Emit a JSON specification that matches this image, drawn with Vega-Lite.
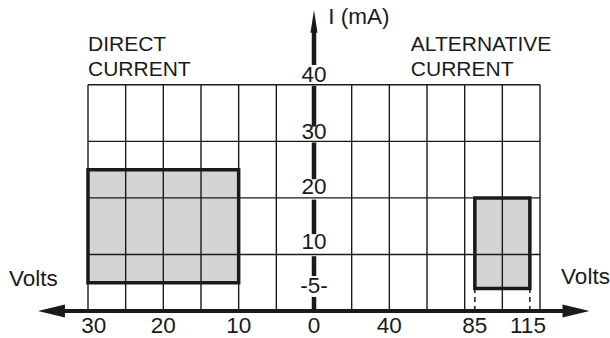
{
  "$schema": "https://vega.github.io/schema/vega-lite/v6.json",
  "width": 610,
  "height": 338,
  "autosize": {"type": "fit", "contains": "padding"},
  "padding": 0,
  "background": "white",
  "config": {"view": {"stroke": null}},
  "datasets": {
    "boxes": [
      {"name": "direct", "x0": -6, "x1": -2, "y0": 5, "y1": 25},
      {"name": "alternative", "x0": 4.27, "x1": 5.73, "y0": 4, "y1": 20}
    ],
    "gridv": [
      {"x": -6, "y0": 0, "y1": 40}, {"x": -5, "y0": 0, "y1": 40}, {"x": -4, "y0": 0, "y1": 40},
      {"x": -3, "y0": 0, "y1": 40}, {"x": -2, "y0": 0, "y1": 40}, {"x": -1, "y0": 0, "y1": 40},
      {"x": 1, "y0": 0, "y1": 40}, {"x": 2, "y0": 0, "y1": 40}, {"x": 3, "y0": 0, "y1": 40},
      {"x": 4, "y0": 0, "y1": 40}, {"x": 5, "y0": 0, "y1": 40}, {"x": 6, "y0": 0, "y1": 40}
    ],
    "gridh": [
      {"y": 10, "x0": -6, "x1": 6}, {"y": 20, "x0": -6, "x1": 6},
      {"y": 30, "x0": -6, "x1": 6}, {"y": 40, "x0": -6, "x1": 6}
    ],
    "dashes": [
      {"x": 4.27, "y0": 0, "y1": 4},
      {"x": 5.73, "y0": 0, "y1": 4}
    ],
    "vaxis": [
      {"y0": 43.5, "y1": 49.6},
      {"y0": 32.6, "y1": 39.8},
      {"y0": 23.3, "y1": 29.8},
      {"y0": 13.6, "y1": 19.7},
      {"y0": 6.2, "y1": 9.7},
      {"y0": 0, "y1": 2.5}
    ],
    "haxis": [{"x0": -6.95, "x1": 6.95, "y": 0}],
    "arrows": [
      {"dir": "left", "x": -6.97, "y": 0},
      {"dir": "right", "x": 6.955, "y": 0},
      {"dir": "up", "x": 0, "y": 51.2}
    ],
    "words": [
      {"text": "DIRECT", "x": -6, "y": 47.0},
      {"text": "CURRENT", "x": -6, "y": 42.6},
      {"text": "ALTERNATIVE", "x": 2.57, "y": 47.0},
      {"text": "CURRENT", "x": 2.57, "y": 42.6}
    ],
    "side": [
      {"text": "I (mA)", "x": 0.38, "y": 52},
      {"text": "Volts", "x": -8.1, "y": 5.6},
      {"text": "Volts", "x": 6.56, "y": 6.1}
    ],
    "numbers": [
      {"text": "40", "x": 0, "y": 41.8},
      {"text": "30", "x": 0, "y": 31.7},
      {"text": "20", "x": 0, "y": 21.85},
      {"text": "10", "x": 0, "y": 12.2},
      {"text": "-5-", "x": 0, "y": 4.4},
      {"text": "30", "x": -5.85, "y": -2.6},
      {"text": "20", "x": -4, "y": -2.6},
      {"text": "10", "x": -2, "y": -2.6},
      {"text": "0", "x": 0, "y": -2.6},
      {"text": "40", "x": 2, "y": -2.6},
      {"text": "85", "x": 4.27, "y": -2.6},
      {"text": "115", "x": 5.68, "y": -2.6}
    ]
  },
  "layer": [
    {
      "data": {"name": "boxes"},
      "mark": {"type": "rect", "fill": "#d3d4d6", "stroke": null},
      "encoding": {
        "x": {"field": "x0", "type": "quantitative", "scale": {"domain": [-8.336, 7.858], "nice": false, "zero": false}, "axis": null},
        "x2": {"field": "x1"},
        "y": {"field": "y0", "type": "quantitative", "scale": {"domain": [-4.58, 54.98], "nice": false, "zero": false}, "axis": null},
        "y2": {"field": "y1"}
      }
    },
    {
      "data": {"name": "gridv"},
      "mark": {"type": "rule", "color": "#1a1a1a", "strokeWidth": 1.4},
      "encoding": {
        "x": {"field": "x", "type": "quantitative", "scale": {"domain": [-8.336, 7.858], "nice": false, "zero": false}, "axis": null},
        "y": {"field": "y0", "type": "quantitative", "scale": {"domain": [-4.58, 54.98], "nice": false, "zero": false}, "axis": null},
        "y2": {"field": "y1"}
      }
    },
    {
      "data": {"name": "gridh"},
      "mark": {"type": "rule", "color": "#1a1a1a", "strokeWidth": 1.4},
      "encoding": {
        "x": {"field": "x0", "type": "quantitative", "scale": {"domain": [-8.336, 7.858], "nice": false, "zero": false}, "axis": null},
        "x2": {"field": "x1"},
        "y": {"field": "y", "type": "quantitative", "scale": {"domain": [-4.58, 54.98], "nice": false, "zero": false}, "axis": null}
      }
    },
    {
      "data": {"name": "boxes"},
      "mark": {"type": "rect", "filled": false, "stroke": "#1a1a1a", "strokeWidth": 3.5},
      "encoding": {
        "x": {"field": "x0", "type": "quantitative", "scale": {"domain": [-8.336, 7.858], "nice": false, "zero": false}, "axis": null},
        "x2": {"field": "x1"},
        "y": {"field": "y0", "type": "quantitative", "scale": {"domain": [-4.58, 54.98], "nice": false, "zero": false}, "axis": null},
        "y2": {"field": "y1"}
      }
    },
    {
      "data": {"name": "dashes"},
      "mark": {"type": "rule", "color": "#1a1a1a", "strokeWidth": 1.5, "strokeDash": [5, 4]},
      "encoding": {
        "x": {"field": "x", "type": "quantitative", "scale": {"domain": [-8.336, 7.858], "nice": false, "zero": false}, "axis": null},
        "y": {"field": "y0", "type": "quantitative", "scale": {"domain": [-4.58, 54.98], "nice": false, "zero": false}, "axis": null},
        "y2": {"field": "y1"}
      }
    },
    {
      "data": {"name": "vaxis"},
      "mark": {"type": "rule", "color": "#1a1a1a", "strokeWidth": 4.5},
      "encoding": {
        "x": {"datum": 0, "type": "quantitative", "scale": {"domain": [-8.336, 7.858], "nice": false, "zero": false}, "axis": null},
        "y": {"field": "y0", "type": "quantitative", "scale": {"domain": [-4.58, 54.98], "nice": false, "zero": false}, "axis": null},
        "y2": {"field": "y1"}
      }
    },
    {
      "data": {"name": "haxis"},
      "mark": {"type": "rule", "color": "#1a1a1a", "strokeWidth": 4},
      "encoding": {
        "x": {"field": "x0", "type": "quantitative", "scale": {"domain": [-8.336, 7.858], "nice": false, "zero": false}, "axis": null},
        "x2": {"field": "x1"},
        "y": {"field": "y", "type": "quantitative", "scale": {"domain": [-4.58, 54.98], "nice": false, "zero": false}, "axis": null}
      }
    },
    {
      "data": {"name": "arrows"},
      "mark": {"type": "point", "filled": true, "size": 729, "color": "#1a1a1a", "opacity": 1, "strokeWidth": 0},
      "encoding": {
        "x": {"field": "x", "type": "quantitative", "scale": {"domain": [-8.336, 7.858], "nice": false, "zero": false}, "axis": null},
        "y": {"field": "y", "type": "quantitative", "scale": {"domain": [-4.58, 54.98], "nice": false, "zero": false}, "axis": null},
        "shape": {"field": "dir", "type": "nominal", "legend": null,
          "scale": {"domain": ["left", "right", "up"], "range": ["M-1,0L1,-0.48L1,0.48Z", "M1,0L-1,-0.48L-1,0.48Z", "M0,-0.85L0.26,0.85L-0.26,0.85Z"]}}
      }
    },
    {
      "data": {"name": "words"},
      "mark": {"type": "text", "align": "left", "baseline": "middle", "font": "Liberation Sans", "fontSize": 21, "color": "#1a1a1a"},
      "encoding": {
        "x": {"field": "x", "type": "quantitative", "scale": {"domain": [-8.336, 7.858], "nice": false, "zero": false}, "axis": null},
        "y": {"field": "y", "type": "quantitative", "scale": {"domain": [-4.58, 54.98], "nice": false, "zero": false}, "axis": null},
        "text": {"field": "text"}
      }
    },
    {
      "data": {"name": "side"},
      "mark": {"type": "text", "align": "left", "baseline": "middle", "font": "Liberation Sans", "fontSize": 22.5, "color": "#1a1a1a"},
      "encoding": {
        "x": {"field": "x", "type": "quantitative", "scale": {"domain": [-8.336, 7.858], "nice": false, "zero": false}, "axis": null},
        "y": {"field": "y", "type": "quantitative", "scale": {"domain": [-4.58, 54.98], "nice": false, "zero": false}, "axis": null},
        "text": {"field": "text"}
      }
    },
    {
      "data": {"name": "numbers"},
      "mark": {"type": "text", "align": "center", "baseline": "middle", "font": "Liberation Sans", "fontSize": 22.5, "color": "#1a1a1a"},
      "encoding": {
        "x": {"field": "x", "type": "quantitative", "scale": {"domain": [-8.336, 7.858], "nice": false, "zero": false}, "axis": null},
        "y": {"field": "y", "type": "quantitative", "scale": {"domain": [-4.58, 54.98], "nice": false, "zero": false}, "axis": null},
        "text": {"field": "text"}
      }
    }
  ]
}
